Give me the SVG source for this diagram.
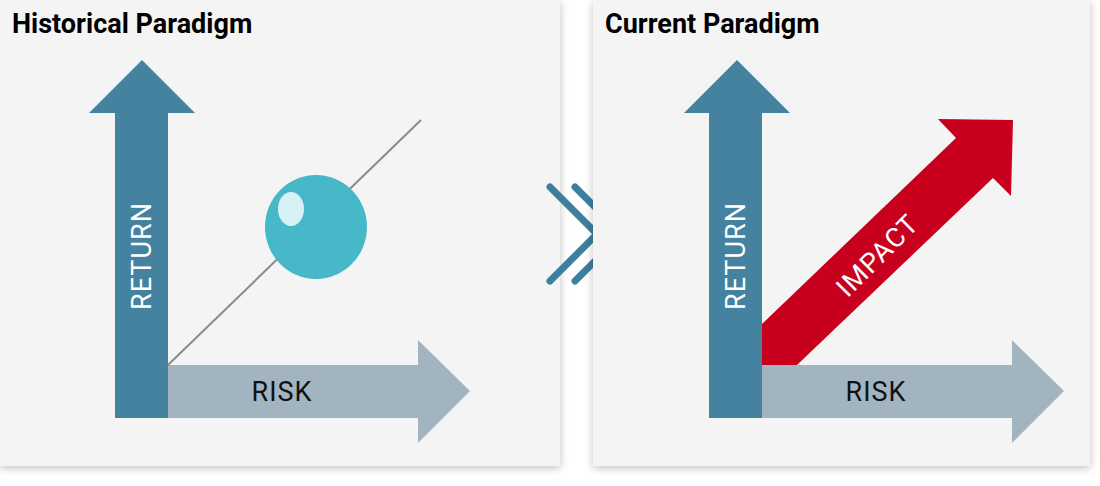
<svg xmlns="http://www.w3.org/2000/svg" width="1100" height="486" viewBox="0 0 1100 486">
<defs>
<filter id="sh" x="-5%" y="-5%" width="110%" height="110%"><feGaussianBlur in="SourceAlpha" stdDeviation="4"/><feOffset dx="0" dy="2"/><feComponentTransfer><feFuncA type="linear" slope="0.25"/></feComponentTransfer><feMerge><feMergeNode/><feMergeNode in="SourceGraphic"/></feMerge></filter>
</defs>
<style>
.panel{fill:#f4f4f4}
.ret{fill:#44829f}
.risk{fill:#a2b4c0}
.title{font-family:Roboto,"Liberation Sans",sans-serif;font-weight:bold;font-size:27px;fill:#000}
.lbl{font-family:Roboto,"Liberation Sans",sans-serif;font-size:27px;letter-spacing:1px}
</style>
<rect width="1100" height="486" fill="#ffffff"/>
<g id="historical">
<rect class="panel" x="0" y="0" width="560" height="466" filter="url(#sh)"/>
<text class="title" x="12" y="33">Historical  Paradigm</text>
<polygon class="risk" points="168,365 418,365 418,340 470,391 418,443 418,418 168,418"/>
<polygon class="ret" points="115,418 115,113 89,113 142,60 195,113 168,113 168,418"/>
<text class="lbl" x="0" y="0" fill="#fff" text-anchor="middle" transform="translate(151,256) rotate(-90)">RETURN</text>
<text class="lbl" x="282" y="401" fill="#111" text-anchor="middle">RISK</text>
<line x1="168" y1="365" x2="421" y2="120" stroke="#8a8a8a" stroke-width="2"/>
<ellipse cx="316" cy="227" rx="51" ry="52" fill="#47b8c8"/>
<ellipse cx="291" cy="209" rx="13" ry="17" fill="#d8f1f4"/>
</g>
<g id="connectors" fill="none" stroke="#3d7f9c" stroke-width="7" stroke-linecap="round" stroke-linejoin="miter">
<polyline points="550,187 597,234 550,281"/>
<polyline points="575,187 622,234 575,281"/>
</g>
<g id="current">
<rect class="panel" x="593" y="0" width="497" height="466" filter="url(#sh)"/>
<text class="title" x="605" y="33">Current Paradigm</text>
<polygon class="risk" points="762,365 1012,365 1012,340 1064,391 1012,443 1012,418 762,418"/>
<polygon class="ret" points="709,418 709,113 684,113 737,60 790,113 762,113 762,418"/>
<polygon fill="#c8001e" points="762,324 956,138 938,119 1013,120 1011,196 993,178 797,365 762,365"/>
<text class="lbl" x="0" y="0" fill="#fff" text-anchor="middle" transform="translate(745,256) rotate(-90)">RETURN</text>
<text class="lbl" x="0" y="0" fill="#fff" text-anchor="middle" font-size="25" transform="translate(884,262) rotate(-45)">IMPACT</text>
<text class="lbl" x="876" y="401" fill="#111" text-anchor="middle">RISK</text>
</g>
</svg>
